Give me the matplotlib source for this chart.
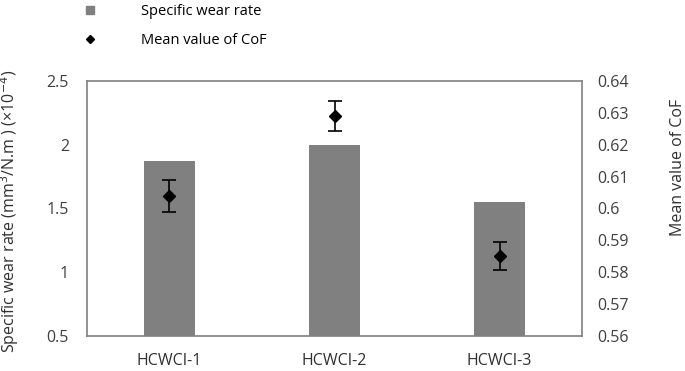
import numpy as np
import matplotlib.pyplot as plt
from matplotlib.lines import Line2D

plt.rcParams['font.family'] = ['Open Sans', 'DejaVu Sans']
plt.rcParams['font.size'] = 11.5

# data
samples = ['HCWCI-1', 'HCWCI-2', 'HCWCI-3']
wear_rate = [1.875, 2.0, 1.55]
cof_mean = [0.604, 0.629, 0.585]
cof_err = [0.005, 0.0047, 0.0044]

fig = plt.figure(figsize=(6.85, 3.71), dpi=100)
ax = fig.add_axes([87/685, 1-336/371, 495/685, 255/371])
x = np.arange(len(samples))

ax.bar(x, wear_rate, width=0.315, color='#808080', bottom=0)
ax.set_xlim(-0.5, 2.5)
ax.set_ylim(0.5, 2.5)
ax.set_yticks([0.5, 1, 1.5, 2, 2.5])
ax.set_yticklabels(['0.5', '1', '1.5', '2', '2.5'], color='#404040')
ax.set_xticks(x)
ax.set_xticklabels(samples, color='#303030')
ax.tick_params(length=0, pad=13)
ax.tick_params(axis='x', pad=12)
for s in ax.spines.values():
    s.set_color('#808080')
    s.set_linewidth(1.2)
ax.set_ylabel('Specific wear rate (mm$^3$/N.m ) (×10$^{-4}$)', color='#303030')
ax.yaxis.set_label_coords(-0.133, 0.49)

ax2 = ax.twinx()
ax2.errorbar(x, cof_mean, yerr=cof_err, fmt='D', color='black', ms=6,
             ecolor='black', elinewidth=1.2, capsize=5, capthick=1.2)
ax2.set_ylim(0.56, 0.64)
ax2.set_yticks(np.arange(0.56, 0.6401, 0.01))
ax2.set_yticklabels(['0.56', '0.57', '0.58', '0.59', '0.6', '0.61', '0.62', '0.63', '0.64'],
                    color='#404040')
ax2.tick_params(length=0, pad=11)
for s in ax2.spines.values():
    s.set_visible(False)
ax2.set_ylabel('Mean value of CoF', color='#303030')
ax2.yaxis.set_label_coords(1.178, 0.66)

handles = [Line2D([], [], marker='s', color='#808080', ls='none', ms=6),
           Line2D([], [], marker='D', color='black', ls='none', ms=4)]
fig.legend(handles, ['Specific wear rate', 'Mean value of CoF'],
           loc='upper left', bbox_to_anchor=(70/685, 1.025), frameon=False,
           fontsize=10.5, labelspacing=0.95, handletextpad=3.0, handlelength=1.0)

fig.savefig('out.png', dpi=100)
